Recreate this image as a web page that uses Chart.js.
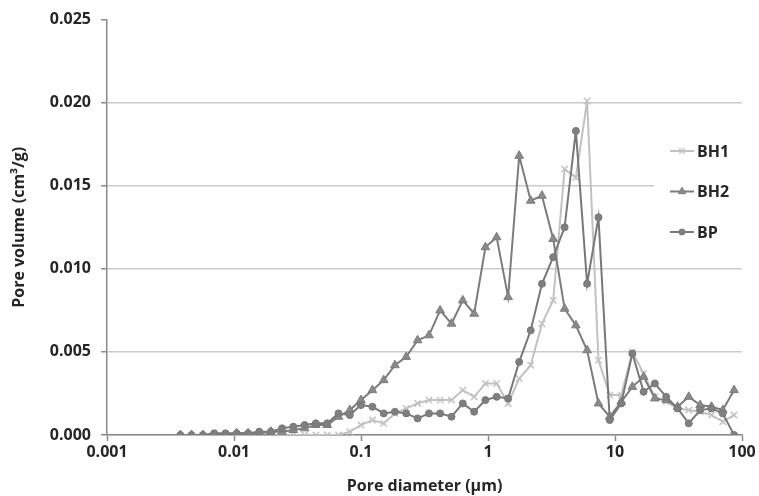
<!DOCTYPE html>
<html>
<head>
<meta charset="utf-8">
<script src="https://cdn.jsdelivr.net/npm/chart.js@4.4.0/dist/chart.umd.min.js"></script>
<style>
  html, body { margin: 0; padding: 0; background: #fff; }
</style>
</head>
<body>
<canvas id="poreChart" width="759" height="496"></canvas>
<script>
// Pore diameter (µm), shared by all three samples
const diameters = [
    0.00378, 0.00463, 0.00569, 0.00698, 0.00857, 0.0105, 0.0129, 0.0158, 0.0195, 0.0239,
    0.0293, 0.0360, 0.0441, 0.0542, 0.0665, 0.0816, 0.100, 0.123, 0.151, 0.185,
    0.227, 0.279, 0.343, 0.420, 0.516, 0.633, 0.778, 0.954, 1.17, 1.44,
    1.76, 2.17, 2.66, 3.26, 4.01, 4.92, 6.03, 7.41, 9.09, 11.2,
    13.7, 16.8, 20.6, 25.3, 31.1, 38.1, 46.8, 57.5, 70.5, 86.6
];

// Pore volume (cm3/g)
const bh1 = [
    null, null, null, null, null, null, null, null, 0, 0,
    0, 0, 0, 0, 0, 0.0002, 0.0006, 0.0009, 0.0007, 0.0013,
    0.0016, 0.0019, 0.0021, 0.0021, 0.0021, 0.0027, 0.0023, 0.0031, 0.0031, 0.0019,
    0.0034, 0.0042, 0.0067, 0.0081, 0.0160, 0.0155, 0.0201, 0.0045, 0.0024, 0.0024,
    0.0050, 0.0037, 0.0023, 0.0020, 0.0016, 0.0015, 0.0014, 0.0012, 0.0008, 0.0012
];
const bh2 = [
    0, 0, 0, 0, 0, 0.0001, 0.0001, 0.0001, 0.0002, 0.0002,
    0.0003, 0.0004, 0.0006, 0.0006, 0.0011, 0.0015, 0.0021, 0.0027, 0.0033, 0.0042,
    0.0047, 0.0057, 0.0060, 0.0075, 0.0067, 0.0081, 0.0073, 0.0113, 0.0119, 0.0083,
    0.0168, 0.0141, 0.0144, 0.0118, 0.0076, 0.0066, 0.0051, 0.0019, 0.0011, 0.0020,
    0.0029, 0.0035, 0.0022, 0.0021, 0.0017, 0.0023, 0.0018, 0.0017, 0.0015, 0.0027
];
const bp = [
    0, 0, 0, 0.0001, 0.0001, 0.0001, 0.0001, 0.0002, 0.0002, 0.0004,
    0.0005, 0.0006, 0.0007, 0.0007, 0.0013, 0.0012, 0.0018, 0.0017, 0.0013, 0.0014,
    0.0013, 0.0010, 0.0013, 0.0013, 0.0011, 0.0019, 0.0014, 0.0021, 0.0023, 0.0022,
    0.0044, 0.0063, 0.0091, 0.0107, 0.0125, 0.0183, 0.0091, 0.0131, 0.0009, 0.0019,
    0.0049, 0.0026, 0.0031, 0.0023, 0.0016, 0.0007, 0.0015, 0.0016, 0.0013, 0.0000
];

const xTickValues = [0.001, 0.01, 0.1, 1, 10, 100];
const yTickValues = [0, 0.005, 0.010, 0.015, 0.020, 0.025];

const axisColor = "#8a8a8a";
const gridColor = "#cbcbcb";
const textColor = "#262626";
const font = { family: "'Open Sans', sans-serif", size: 16, weight: 'bold' };

const toPoints = function(values) {
    return diameters.map((d, i) => ({ x: d, y: values[i] }));
}

// Legend drawn inside the plot area, on a white box (like the original)
const sideLegend = {
    id: 'sideLegend',
    afterDraw(chart) {
        const ctx = chart.ctx;
        const area = chart.chartArea;
        const left = area.right - 88;
        ctx.save();
        ctx.fillStyle = '#fff';
        ctx.fillRect(left, 133, 90, 118);
        ctx.font = "bold 16px 'Open Sans', sans-serif";
        ctx.textBaseline = 'middle';
        chart.data.datasets.forEach((ds, i) => {
            const y = 151 + i * 40.5;
            const x0 = left + 16;
            const x1 = left + 40;
            ctx.strokeStyle = ds.borderColor;
            ctx.lineWidth = ds.borderWidth;
            ctx.beginPath();
            ctx.moveTo(x0, y);
            ctx.lineTo(x1, y);
            ctx.stroke();
            ctx.fillStyle = ds.pointBackgroundColor;
            ctx.strokeStyle = ds.pointBorderColor;
            ctx.lineWidth = ds.pointBorderWidth;
            Chart.helpers.drawPoint(ctx, {
                pointStyle: ds.pointStyle,
                radius: ds.pointRadius * 0.85,
                borderWidth: ds.pointBorderWidth,
                rotation: 0
            }, (x0 + x1) / 2, y);
            ctx.fillStyle = textColor;
            ctx.fillText(ds.label, x1 + 3, y + 1);
        });
        ctx.restore();
    }
}

const ctx = document.getElementById('poreChart');

new Chart(ctx, {
    type: 'line',
    data: {
        datasets: [
            {
                label: 'BH1',
                data: toPoints(bh1),
                borderColor: '#c2c2c2',
                borderWidth: 2,
                pointStyle: 'crossRot',
                pointRadius: 4.5,
                pointBorderColor: '#c2c2c2',
                pointBackgroundColor: '#c2c2c2',
                pointBorderWidth: 1.5,
                order: 3
            },
            {
                label: 'BH2',
                data: toPoints(bh2),
                borderColor: '#7c7c7c',
                borderWidth: 2,
                pointStyle: 'triangle',
                pointRadius: 5,
                pointBorderColor: '#7c7c7c',
                pointBackgroundColor: '#8a8a8a',
                pointBorderWidth: 1,
                order: 2
            },
            {
                label: 'BP',
                data: toPoints(bp),
                borderColor: '#787878',
                borderWidth: 2,
                pointStyle: 'circle',
                pointRadius: 3.5,
                pointBorderColor: '#787878',
                pointBackgroundColor: '#7f7f7f',
                pointBorderWidth: 1,
                order: 1
            }
        ]
    },
    options: {
        responsive: false,
        animation: false,
        layout: { padding: { left: 0, right: 17, top: 19, bottom: 0 } },

        // Scales
        scales: {
            x: {
                type: 'logarithmic',
                min: 0.001,
                max: 100,
                afterBuildTicks: s => { s.ticks = xTickValues.map(v => ({ value: v })); },
                afterFit: s => { s.height = 61; },
                border: { color: axisColor, width: 1.5 },
                grid: { drawOnChartArea: false, tickLength: 6, tickColor: axisColor, tickWidth: 1.5 },
                ticks: {
                    callback: v => String(v),
                    font: font,
                    color: textColor,
                    padding: 2,
                    maxRotation: 0,
                    autoSkip: false
                },
                title: {
                    display: true,
                    text: 'Pore diameter (µm)',
                    font: font,
                    color: textColor,
                    padding: { top: 4, bottom: 0 }
                }
            },
            y: {
                min: 0,
                max: 0.025,
                afterBuildTicks: s => { s.ticks = yTickValues.map(v => ({ value: v })); },
                afterFit: s => { s.width = 107; },
                border: { color: axisColor, width: 1.5 },
                grid: {
                    color: c => (c.tick && c.tick.value >= 0.025) ? 'rgba(0,0,0,0)' : gridColor,
                    lineWidth: 1.5,
                    tickLength: 6,
                    tickColor: axisColor,
                    tickWidth: 1.5
                },
                ticks: {
                    callback: v => v.toFixed(3),
                    font: font,
                    color: textColor,
                    padding: 10
                },
                title: {
                    display: true,
                    text: 'Pore volume (cm³/g)',
                    font: font,
                    color: textColor,
                    padding: { top: 10, bottom: 4 }
                }
            }
        },

        plugins: {
            legend: { display: false },
            tooltip: { enabled: false }
        }
    },
    plugins: [sideLegend]
});
</script>
</body>
</html>
